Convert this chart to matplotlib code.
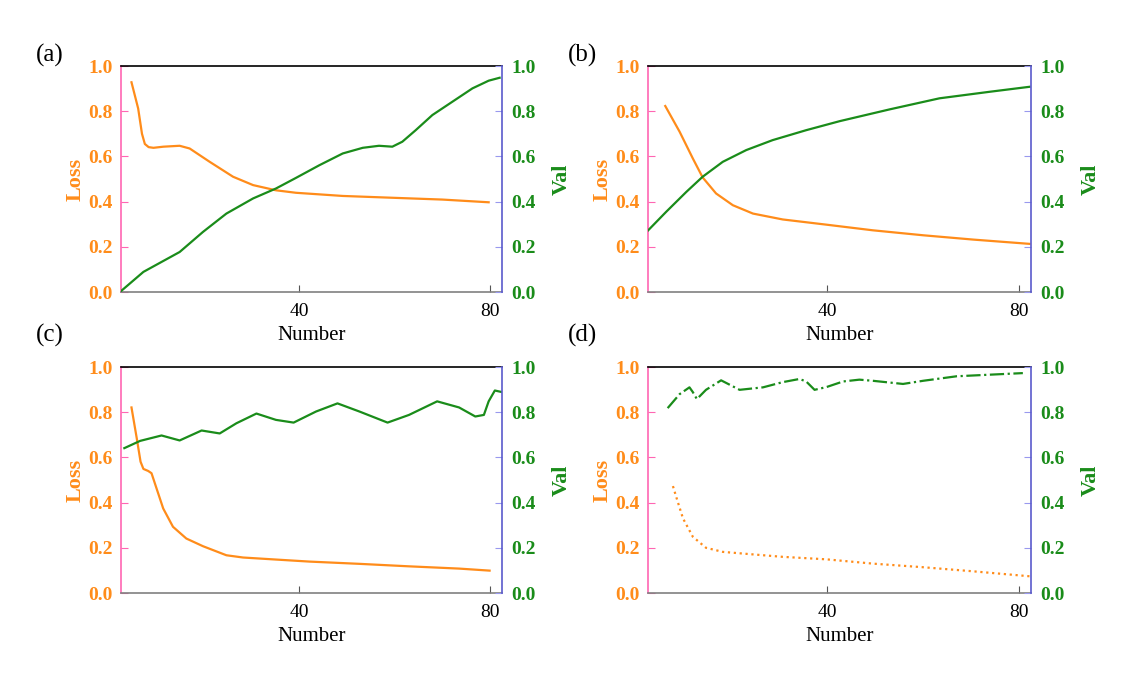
import matplotlib
matplotlib.use("Agg")
import matplotlib.pyplot as plt

plt.rcParams["font.family"] = ["Liberation Serif", "DejaVu Serif"]

# ---- data ----
# (a)
a_loss_x = [4.8, 6.2, 7.0, 7.6, 8.4, 9.4, 11.5, 14.9, 17.0, 21.2, 26.1, 30.3, 35.1, 39.3, 49.1, 59.5, 70.0, 79.7]
a_loss_y = [0.928, 0.812, 0.700, 0.655, 0.641, 0.638, 0.643, 0.647, 0.635, 0.576, 0.510, 0.473, 0.450, 0.439, 0.425, 0.417, 0.409, 0.397]
a_val_x = [2.6, 7.3, 14.9, 19.8, 24.7, 30.3, 35.1, 39.3, 44.2, 49.1, 53.3, 56.7, 59.5, 61.6, 64.4, 67.9, 72.1, 76.3, 79.7, 82.0]
a_val_y = [0.004, 0.089, 0.177, 0.266, 0.347, 0.414, 0.458, 0.505, 0.561, 0.613, 0.638, 0.647, 0.643, 0.665, 0.716, 0.783, 0.842, 0.901, 0.935, 0.948]

# (b)
b_loss_x = [6.2, 9.2, 11.95, 14.0, 16.8, 20.3, 24.5, 30.7, 39.8, 49.5, 60.0, 70.4, 82.2]
b_loss_y = [0.823, 0.709, 0.591, 0.507, 0.436, 0.384, 0.347, 0.321, 0.298, 0.273, 0.251, 0.232, 0.213]
b_val_x = [2.5, 6.4, 10.6, 14.0, 18.2, 23.1, 28.6, 35.6, 42.6, 53.0, 63.4, 73.9, 82.2]
b_val_y = [0.270, 0.355, 0.443, 0.510, 0.576, 0.628, 0.672, 0.716, 0.756, 0.808, 0.857, 0.886, 0.908]

# (c)
c_loss_x = [4.8, 5.9, 6.7, 7.3, 8.3, 9.0, 10.05, 11.45, 13.5, 16.3, 19.8, 24.7, 28.2, 35.1, 42.1, 52.6, 63.0, 73.5, 79.9]
c_loss_y = [0.821, 0.685, 0.581, 0.549, 0.540, 0.530, 0.463, 0.374, 0.293, 0.241, 0.207, 0.167, 0.157, 0.148, 0.139, 0.129, 0.118, 0.108, 0.099]
c_val_x = [3.3, 6.6, 11.1, 14.9, 19.5, 23.3, 26.8, 31.0, 35.1, 38.8, 43.5, 48.0, 52.6, 58.5, 63.0, 68.9, 73.5, 76.9, 78.7, 79.7, 81.0, 82.5]
c_val_y = [0.641, 0.673, 0.697, 0.675, 0.719, 0.706, 0.751, 0.794, 0.766, 0.754, 0.803, 0.839, 0.803, 0.754, 0.788, 0.848, 0.821, 0.781, 0.788, 0.848, 0.896, 0.889]

# (d)
d_loss_x = [7.8, 8.8, 9.9, 11.95, 14.7, 18.2, 23.8, 30.7, 39.8, 49.5, 60.0, 70.4, 82.2]
d_loss_y = [0.473, 0.404, 0.330, 0.249, 0.200, 0.182, 0.172, 0.160, 0.149, 0.130, 0.114, 0.096, 0.074]
d_val_x = [6.7, 9.2, 11.25, 11.95, 12.8, 14.7, 17.85, 19.6, 21.7, 26.6, 30.7, 34.2, 35.6, 37.35, 39.8, 43.3, 46.7, 49.5, 55.8, 60.0, 67.0, 73.9, 80.8]
d_val_y = [0.818, 0.880, 0.910, 0.889, 0.858, 0.899, 0.941, 0.922, 0.899, 0.910, 0.933, 0.947, 0.936, 0.899, 0.911, 0.936, 0.944, 0.939, 0.925, 0.939, 0.959, 0.966, 0.973]

panel_labels = ["(a)", "(b)", "(c)", "(d)"]
y_ticks = [0.0, 0.2, 0.4, 0.6, 0.8, 1.0]
x_ticks = [40, 80]

ORANGE = "#ff8c1a"
GREEN = "#1a8c1a"
PINK = "#ff66b3"
BLUE = "#5a5acc"

fig = plt.figure(figsize=(11.44, 6.74), dpi=100)

# axes rectangles in pixels (left, top, right, bottom) and panel-label spots
W, H = 1144.0, 674.0
boxes = [
    (121, 66, 502, 292),
    (648, 66, 1031, 292),
    (121, 367, 502, 593),
    (648, 367, 1031, 593),
]
label_spots = [(36, 55), (568, 55), (36, 335), (568, 335)]
series = [
    (a_loss_x, a_loss_y, a_val_x, a_val_y, "-", "-"),
    (b_loss_x, b_loss_y, b_val_x, b_val_y, "-", "-"),
    (c_loss_x, c_loss_y, c_val_x, c_val_y, "-", "-"),
    (d_loss_x, d_loss_y, d_val_x, d_val_y, ":", "-."),
]

for (x0, y0, x1, y1), (lx, ly, vx, vy, ls1, ls2), lab, (tx, ty) in zip(boxes, series, panel_labels, label_spots):
    ax = fig.add_axes([x0 / W, 1 - y1 / H, (x1 - x0) / W, (y1 - y0) / H])
    ax2 = ax.twinx()

    ax.plot(lx, ly, color=ORANGE, lw=1.6, ls=ls1)
    ax2.plot(vx, vy, color=GREEN, lw=1.6, ls=ls2)

    ax.set_xlim(2.6, 82.5)
    ax.set_ylim(0, 1)
    ax2.set_ylim(0, 1)
    ax.set_xticks(x_ticks)
    ax.set_yticks(y_ticks)
    ax2.set_yticks(y_ticks)
    ax.set_yticklabels([f"{t:.1f}" for t in y_ticks])
    ax2.set_yticklabels([f"{t:.1f}" for t in y_ticks])

    # spines
    ax.spines["left"].set_color(PINK)
    ax.spines["bottom"].set_color("#808080")
    ax.spines["top"].set_color("black")
    ax.spines["right"].set_visible(False)
    ax2.spines["right"].set_color(BLUE)
    for s in ["left", "top", "bottom"]:
        ax2.spines[s].set_visible(False)
    for sp in list(ax.spines.values()) + list(ax2.spines.values()):
        sp.set_linewidth(1.2)

    ax.tick_params(axis="y", direction="in", length=5, color=PINK, labelcolor=ORANGE,
                   labelsize=14, pad=6)
    ax2.tick_params(axis="y", direction="in", length=5, color="#9999ee", labelcolor=GREEN,
                    labelsize=14, pad=7)
    ax.tick_params(axis="x", direction="in", length=5, color="#555555", labelcolor="black",
                   labelsize=14, pad=8)
    for t in ax.get_yticklabels() + ax2.get_yticklabels():
        t.set_fontweight("bold")

    ax.set_xlabel("Number", fontsize=15, labelpad=4)
    ax.set_ylabel("Loss", color=ORANGE, fontsize=16, fontweight="bold", labelpad=2)
    ax2.set_ylabel("Val", color=GREEN, fontsize=16, fontweight="bold", labelpad=11)

    fig.text(tx / W, 1 - ty / H, lab, fontsize=18, ha="left", va="center")

fig.savefig("out.png", dpi=100)
